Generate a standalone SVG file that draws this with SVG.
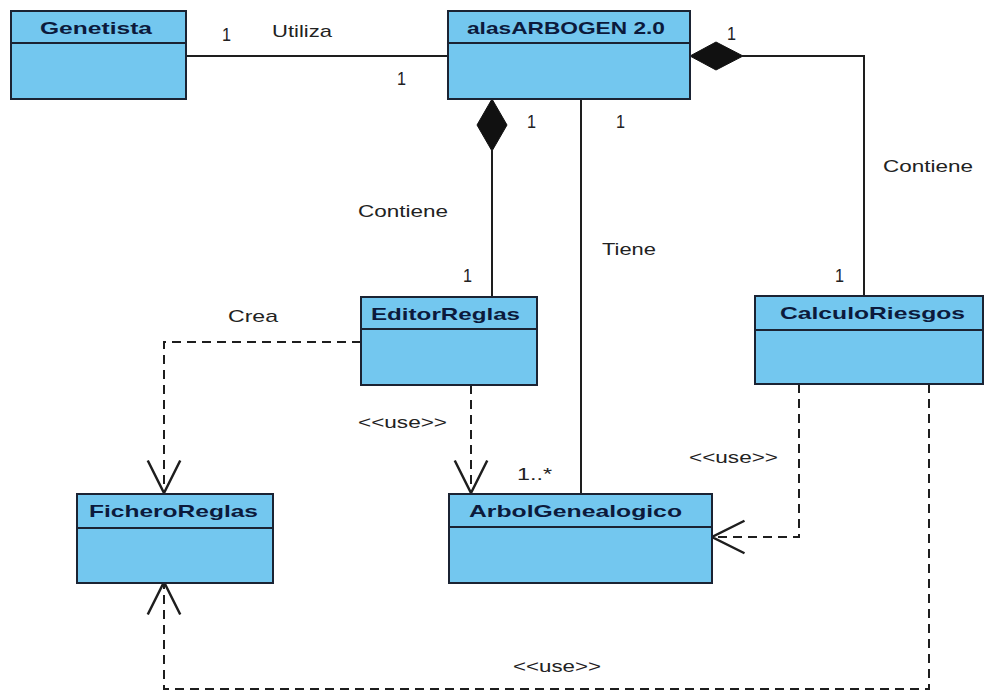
<svg xmlns="http://www.w3.org/2000/svg" width="985" height="692" viewBox="0 0 985 692">
<style>
.box{fill:#73C7EF;stroke:#1b2333;stroke-width:2}
.div{stroke:#1b2333;stroke-width:2}
.hd{font-family:"Liberation Sans",Arial,sans-serif;font-weight:bold;font-size:17px;fill:#0c1a3c}
.lb{font-family:"Liberation Sans",Arial,sans-serif;font-size:17px;fill:#222222}
.one{font-family:"Liberation Sans",Arial,sans-serif;font-size:18px;fill:#222222}
.solid{fill:none;stroke:#1e1e1e;stroke-width:2}
.dash{fill:none;stroke:#1e1e1e;stroke-width:2;stroke-dasharray:9 6}
.dia{fill:#111;stroke:#111;stroke-width:1}
</style>
<defs>
<marker id="open" markerUnits="userSpaceOnUse" markerWidth="40" markerHeight="40" refX="0" refY="0" viewBox="-30 -16 32 32" orient="auto" overflow="visible">
<path d="M-26,-13 L0,0 L-26,13" fill="none" stroke="#1e1e1e" stroke-width="2" stroke-dasharray="none"/>
</marker>
</defs>
<rect width="985" height="692" fill="#ffffff"/>

<g id="connectors">
<path class="solid" d="M186,56 H448"/>
<polygon class="dia" points="690,56 716,42 743,56 716,70"/>
<path class="solid" d="M742,56 H864 V296"/>
<polygon class="dia" points="492,99 477,125 492,151 507,125"/>
<path class="solid" d="M492,150 V297"/>
<path class="solid" d="M581,99 V494"/>
<path class="dash" d="M361,342 H164 V493" marker-end="url(#open)"/>
<path class="dash" d="M471,385 V493" marker-end="url(#open)"/>
<path class="dash" d="M799,384 V537 H712" marker-end="url(#open)"/>
<path class="dash" d="M929,384 V689 H164 V582" marker-end="url(#open)"/>
<text class="one" x="222" y="41" textLength="9" lengthAdjust="spacingAndGlyphs">1</text>
<text class="lb" x="272" y="37" textLength="60" lengthAdjust="spacingAndGlyphs">Utiliza</text>
<text class="one" x="397" y="85" textLength="9" lengthAdjust="spacingAndGlyphs">1</text>
<text class="one" x="727" y="40" textLength="9" lengthAdjust="spacingAndGlyphs">1</text>
<text class="one" x="527" y="128" textLength="9" lengthAdjust="spacingAndGlyphs">1</text>
<text class="one" x="616" y="128" textLength="9" lengthAdjust="spacingAndGlyphs">1</text>
<text class="lb" x="358" y="217" textLength="90" lengthAdjust="spacingAndGlyphs">Contiene</text>
<text class="one" x="463" y="282" textLength="9" lengthAdjust="spacingAndGlyphs">1</text>
<text class="lb" x="602" y="255" textLength="54" lengthAdjust="spacingAndGlyphs">Tiene</text>
<text class="lb" x="883" y="172" textLength="90" lengthAdjust="spacingAndGlyphs">Contiene</text>
<text class="one" x="835" y="282" textLength="9" lengthAdjust="spacingAndGlyphs">1</text>
<text class="lb" x="228" y="322" textLength="50" lengthAdjust="spacingAndGlyphs">Crea</text>
<text class="lb" x="358" y="428" textLength="89" lengthAdjust="spacingAndGlyphs">&lt;&lt;use&gt;&gt;</text>
<text class="lb" x="517" y="480" textLength="35" lengthAdjust="spacingAndGlyphs">1..*</text>
<text class="lb" x="689" y="463" textLength="89" lengthAdjust="spacingAndGlyphs">&lt;&lt;use&gt;&gt;</text>
<text class="lb" x="513" y="672" textLength="88" lengthAdjust="spacingAndGlyphs">&lt;&lt;use&gt;&gt;</text>
</g>

<g id="Genetista">
<rect class="box" x="11" y="11" width="175" height="88"/>
<line class="div" x1="11" y1="43" x2="186" y2="43"/>
<text class="hd" x="40" y="34" textLength="112" lengthAdjust="spacingAndGlyphs">Genetista</text>
</g>

<g id="alasARBOGEN">
<rect class="box" x="448" y="11" width="242" height="88"/>
<line class="div" x1="448" y1="43" x2="690" y2="43"/>
<text class="hd" x="467" y="34" textLength="198" lengthAdjust="spacingAndGlyphs">alasARBOGEN 2.0</text>
</g>

<g id="EditorReglas">
<rect class="box" x="361" y="297" width="176" height="88"/>
<line class="div" x1="361" y1="329" x2="537" y2="329"/>
<text class="hd" x="371" y="320" textLength="149" lengthAdjust="spacingAndGlyphs">EditorReglas</text>
</g>

<g id="CalculoRiesgos">
<rect class="box" x="755" y="296" width="228" height="88"/>
<line class="div" x1="755" y1="330" x2="983" y2="330"/>
<text class="hd" x="780" y="319" textLength="185" lengthAdjust="spacingAndGlyphs">CalculoRiesgos</text>
</g>

<g id="FicheroReglas">
<rect class="box" x="77" y="494" width="196" height="89"/>
<line class="div" x1="77" y1="528" x2="273" y2="528"/>
<text class="hd" x="89" y="517" textLength="169" lengthAdjust="spacingAndGlyphs">FicheroReglas</text>
</g>

<g id="ArbolGenealogico">
<rect class="box" x="449" y="494" width="263" height="89"/>
<line class="div" x1="449" y1="527" x2="712" y2="527"/>
<text class="hd" x="469" y="517" textLength="213" lengthAdjust="spacingAndGlyphs">ArbolGenealogico</text>
</g>
</svg>
